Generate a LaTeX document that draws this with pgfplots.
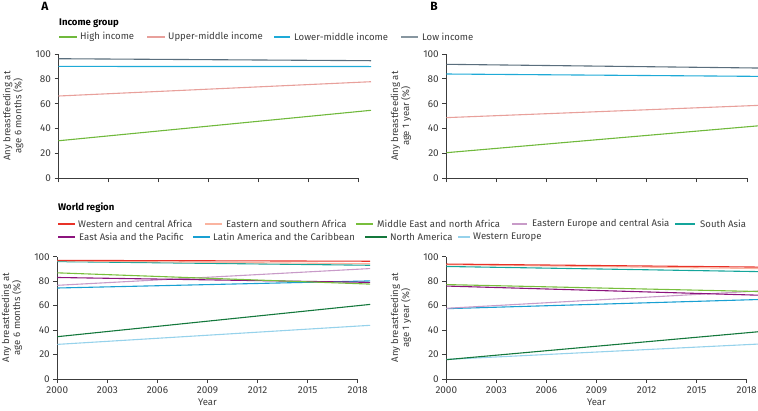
\documentclass[border=0pt]{standalone}
\usepackage{pgfplots}
\pgfplotsset{compat=1.18}
\usepackage{fontspec}
\setmainfont{Fira Sans}
\definecolor{highinc}{RGB}{112,185,60}
\definecolor{uppermid}{RGB}{232,160,155}
\definecolor{lowermid}{RGB}{30,170,215}
\definecolor{lowinc}{RGB}{90,110,125}
\definecolor{lowincleg}{RGB}{135,150,160}
\definecolor{wca}{RGB}{232,50,40}
\definecolor{esa}{RGB}{250,180,160}
\definecolor{mena}{RGB}{120,190,60}
\definecolor{eeca}{RGB}{200,155,200}
\definecolor{sa}{RGB}{20,165,155}
\definecolor{eap}{RGB}{140,20,125}
\definecolor{lac}{RGB}{25,160,210}
\definecolor{na}{RGB}{20,120,60}
\definecolor{we}{RGB}{150,210,235}
\definecolor{axgray}{RGB}{60,60,60}
\pgfplotsset{
  panel/.style={
    scale only axis,
    anchor=south west,
    xmin=2000, xmax=2018, ymin=0, ymax=100,
    xtick={2000,2003,...,2018},
    ytick={0,20,...,100},
    axis x line*=bottom, axis y line*=left,
    axis line style={axgray, line width=0.8bp},
    tick style={axgray, line width=0.8bp},
    tick align=outside,
    major tick length=4bp,
    clip=false,
    /pgf/number format/assume math mode=true,
    /pgf/number format/1000 sep={},
    tick label style={font=\fontsize{10}{11}\selectfont, text=axgray},
    label style={font=\fontsize{9.6}{11}\selectfont, text=axgray},
    ylabel style={at={(axis description cs:0,0.5)}, anchor=south, align=center, inner sep=0pt, yshift=35bp},
    xlabel style={inner sep=0pt, yshift=-2bp},
    every axis plot/.append style={line width=1.1bp, no markers},
  }
}
\begin{document}
\begin{tikzpicture}
\path[use as bounding box] (0,0) rectangle (758bp,411bp);
% Panel A
\begin{axis}[panel, at={(58.5bp,232.7bp)}, width=300bp, height=124.3bp,
  xticklabels={}, ylabel={Any breastfeeding at\\age 6 months (\%)}]
\addplot[lowinc] coordinates {(2000,96.2) (2018.75,94.6)};
\addplot[lowermid] coordinates {(2000,90.0) (2018.75,89.9)};
\addplot[uppermid] coordinates {(2000,66.2) (2018.75,77.7)};
\addplot[highinc] coordinates {(2000,30.2) (2018.75,54.7)};
\end{axis}
% Panel B
\begin{axis}[panel, at={(446.3bp,232.7bp)}, width=300.7bp, height=124.3bp,
  xticklabels={}, ylabel={Any breastfeeding at\\age 1 year (\%)}]
\addplot[lowinc] coordinates {(2000,91.7) (2018.75,88.7)};
\addplot[lowermid] coordinates {(2000,83.9) (2018.75,82.0)};
\addplot[uppermid] coordinates {(2000,48.8) (2018.75,58.7)};
\addplot[highinc] coordinates {(2000,20.6) (2018.75,42.3)};
\end{axis}
% Panel C
\begin{axis}[panel, at={(57.3bp,32bp)}, width=300.4bp, height=122.3bp,
  xlabel={Year}, ylabel={Any breastfeeding at\\age 6 months (\%)}]
\addplot[we] coordinates {(2000,28.3) (2018.75,43.9)};
\addplot[na] coordinates {(2000,34.6) (2018.75,61.0)};
\addplot[lac] coordinates {(2000,74.4) (2018.75,80.2)};
\addplot[eeca] coordinates {(2000,76.6) (2018.75,90.3)};
\addplot[eap] coordinates {(2000,83.0) (2018.75,79.0)};
\addplot[mena] coordinates {(2000,86.8) (2018.75,77.6)};
\addplot[sa] coordinates {(2000,96.0) (2018.75,93.0)};
\addplot[esa] coordinates {(2000,96.6) (2018.75,94.2)};
\addplot[wca] coordinates {(2000,97.0) (2018.75,96.3)};
\end{axis}
% Panel D
\begin{axis}[panel, at={(446.3bp,32bp)}, width=300.4bp, height=122.3bp,
  xlabel={Year}, ylabel={Any breastfeeding at\\age 1 year (\%)}]
\addplot[we] coordinates {(2000,16.0) (2018.75,28.6)};
\addplot[na] coordinates {(2000,15.8) (2018.75,38.7)};
\addplot[lac] coordinates {(2000,57.5) (2018.75,65.0)};
\addplot[eeca] coordinates {(2000,57.8) (2018.75,72.0)};
\addplot[eap] coordinates {(2000,76.0) (2018.75,68.5)};
\addplot[mena] coordinates {(2000,77.2) (2018.75,71.5)};
\addplot[sa] coordinates {(2000,92.0) (2018.75,87.8)};
\addplot[esa] coordinates {(2000,93.5) (2018.75,90.3)};
\addplot[wca] coordinates {(2000,94.0) (2018.75,91.5)};
\end{axis}
% Panel letters and legends
\begin{scope}[font=\fontsize{9.6}{11}\selectfont, every node/.style={inner sep=0pt, text=axgray}]
\node[anchor=center, font=\bfseries\fontsize{12}{13}\selectfont, text=black] at (45bp,405bp) {A};
\node[anchor=center, font=\bfseries\fontsize{12}{13}\selectfont, text=black] at (434bp,405bp) {B};
\node[anchor=west, font=\bfseries\fontsize{9.6}{11}\selectfont, text=black] at (59bp,388bp) {Income group};
\draw[highinc, line width=1.1bp] (59bp,374bp) -- (77bp,374bp);
\node[anchor=west] at (80bp,374bp) {High income};
\draw[uppermid, line width=1.1bp] (147bp,374bp) -- (165bp,374bp);
\node[anchor=west] at (168bp,374bp) {Upper-middle income};
\draw[lowermid, line width=1.1bp] (274bp,374bp) -- (290bp,374bp);
\node[anchor=west] at (294bp,374bp) {Lower-middle income};
\draw[lowincleg, line width=1.1bp] (401bp,374bp) -- (418bp,374bp);
\node[anchor=west] at (422bp,374bp) {Low income};
\node[anchor=west, font=\bfseries\fontsize{9.6}{11}\selectfont, text=black] at (58bp,203bp) {World region};
\draw[wca, line width=1.1bp] (58bp,187bp) -- (75bp,187bp);
\node[anchor=west] at (78bp,187bp) {Western and central Africa};
\draw[esa, line width=1.1bp] (205bp,187bp) -- (222bp,187bp);
\node[anchor=west] at (226bp,187bp) {Eastern and southern Africa};
\draw[mena, line width=1.1bp] (356bp,187bp) -- (373bp,187bp);
\node[anchor=west] at (377bp,187bp) {Middle East and north Africa};
\draw[eeca, line width=1.1bp] (512bp,187bp) -- (527bp,187bp);
\node[anchor=west] at (532bp,187bp) {Eastern Europe and central Asia};
\draw[sa, line width=1.1bp] (675bp,187bp) -- (695bp,187bp);
\node[anchor=west] at (700bp,187bp) {South Asia};
\draw[eap, line width=1.1bp] (58bp,174bp) -- (75bp,174bp);
\node[anchor=west] at (79bp,174bp) {East Asia and the Pacific};
\draw[lac, line width=1.1bp] (193bp,174bp) -- (210bp,174bp);
\node[anchor=west] at (213bp,174bp) {Latin America and the Caribbean};
\draw[na, line width=1.1bp] (365bp,174bp) -- (387bp,174bp);
\node[anchor=west] at (390bp,174bp) {North America};
\draw[we, line width=1.1bp] (458bp,174bp) -- (470bp,174bp);
\node[anchor=west] at (473bp,174bp) {Western Europe};
\end{scope}
\end{tikzpicture}
\end{document}
